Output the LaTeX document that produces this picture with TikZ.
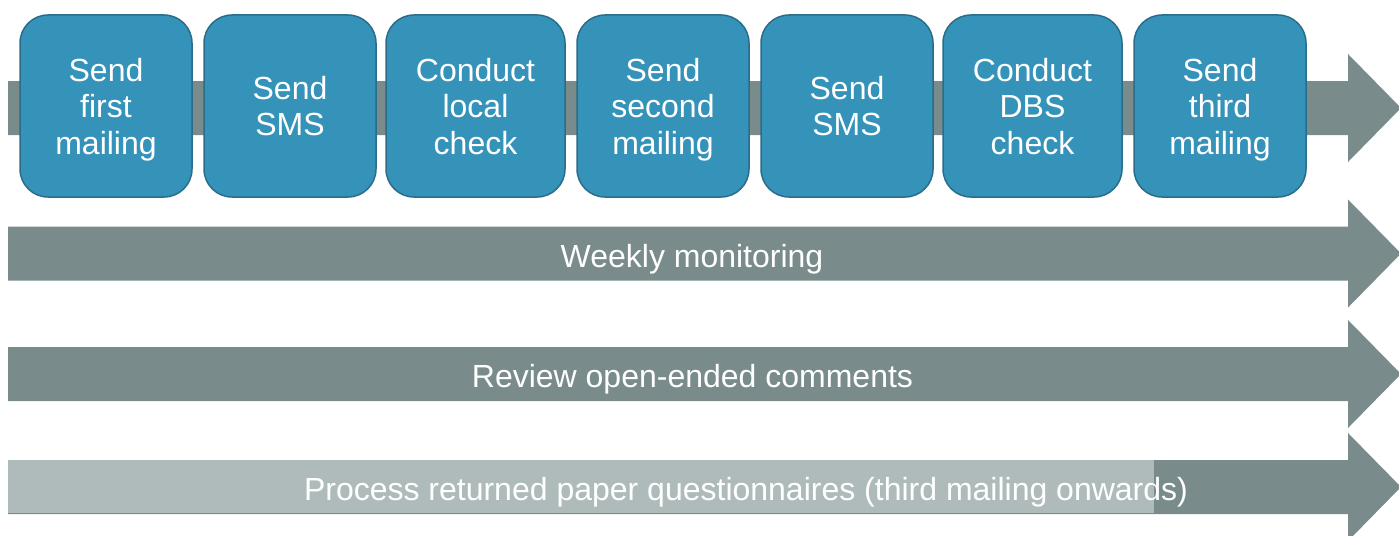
\documentclass[tikz,border=0pt]{standalone}
\usepackage{fontspec}
\setmainfont{Liberation Sans}
\usetikzlibrary{positioning}
\definecolor{stepblue}{RGB}{53,147,186}
\definecolor{stepedge}{RGB}{42,108,137}
\definecolor{bargray}{RGB}{122,139,140}
\definecolor{barlight}{RGB}{175,187,187}

\begin{document}
\begin{tikzpicture}[
x=1pt, y=-1pt,
stepbox/.style={rectangle, rounded corners=28pt, draw=stepedge, fill=stepblue, line width=1.5pt,
  minimum width=172pt, minimum height=182pt, inner sep=0pt, align=center, text depth=0pt,
  text=white, font=\fontsize{32}{36.5}\selectfont},
widebox/.style={stepbox, minimum width=179pt},
barlabel/.style={anchor=base, inner sep=0pt, text=white, font=\fontsize{32}{36.5}\selectfont},
node distance=10.5pt,
]
\useasboundingbox (0,0) rectangle (1399,535);
%Arrows
\foreach \y in {108,253.5,374,487}
  \fill[bargray] (8,\y-27) -- (1348,\y-27) -- (1348,\y-54) -- (1401,\y)
    -- (1348,\y+54) -- (1348,\y+27) -- (8,\y+27) -- cycle;
\fill[barlight] (8,460) rectangle (1154,513);
%Nodes
\node[stepbox]               (mail1)            at (106,106) {Send\\first\\mailing};
\node[stepbox]               (sms1)  [right=of mail1] {Send\\SMS};
\node[widebox]               (local) [right=8.5pt of sms1] {Conduct\\local\\check};
\node[stepbox]               (mail2) [right=of local] {Send\\second\\mailing};
\node[stepbox]               (sms2)  [right=of mail2] {Send\\SMS};
\node[widebox]               (dbs)   [right=8.5pt of sms2] {Conduct\\DBS\\check};
\node[stepbox]               (mail3) [right=of dbs] {Send\\third\\mailing};
%Labels
\node[barlabel] (weekly)  at (692,267) {Weekly monitoring};
\node[barlabel] (review)  at (692.5,387) {Review open-ended comments};
\node[barlabel] (process) at (746,500) {Process returned paper questionnaires (third mailing onwards)};
\end{tikzpicture}
\end{document}
